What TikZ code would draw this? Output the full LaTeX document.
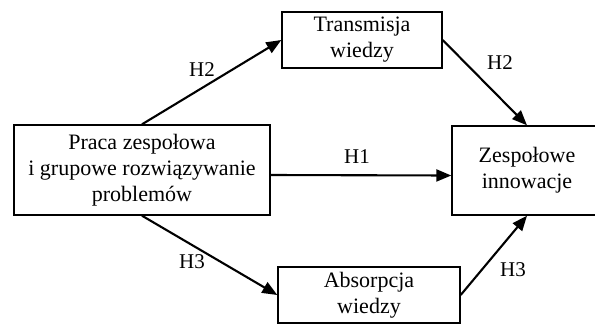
\documentclass[tikz,border=0pt]{standalone}
\usepackage{fontspec}
\setmainfont{Liberation Serif}
\usetikzlibrary{arrows.meta}
\begin{document}
\begin{tikzpicture}[x=1pt,y=-1pt,
  box/.style={draw,line width=1.4pt,align=center,inner sep=0pt,font=\fontsize{22}{26}\selectfont},
  arr/.style={line width=2.1pt,-{Triangle[length=15pt,width=12pt]}},
  lab/.style={font=\fontsize{21}{24}\selectfont}]
\clip (0,0) rectangle (595,325);
\node[box,minimum width=256pt,minimum height=90pt] (L) at (142,170) {Praca zespołowa\\i grupowe rozwiązywanie\\problemów};
\node[box,minimum width=160pt,minimum height=56pt] (T) at (362,40) {Transmisja\\wiedzy};
\node[box,minimum width=182pt,minimum height=56pt] (A) at (369,295) {Absorpcja\\wiedzy};
\node[box,minimum width=150pt,minimum height=89pt] (Z) at (527,170.5) {Zespołowe\\innowacje};
\draw[arr] (L.north) -- (T.west);
\draw[arr] (L.south) -- (A.west);
\draw[arr] ([yshift=-5pt]L.east) -- ([yshift=-5pt]Z.west);
\draw[arr] (T.east) -- (Z.north);
\draw[arr] (A.east) -- (Z.south);
\node[lab] (h2a) at (202,70) {H2};
\node[lab] (h3a) at (192,262) {H3};
\node[lab] (h1) at (357,157) {H1};
\node[lab] (h2b) at (500,63) {H2};
\node[lab] (h3b) at (513,270) {H3};
\end{tikzpicture}
\end{document}
